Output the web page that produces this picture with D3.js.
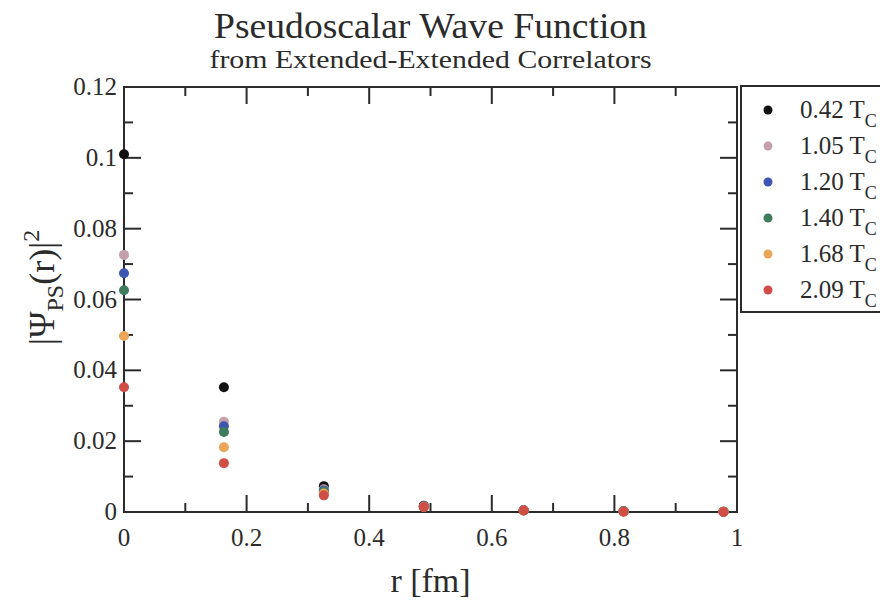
<!DOCTYPE html>
<html>
<head>
<meta charset="utf-8">
<script src="https://cdn.jsdelivr.net/npm/d3@7"></script>
<style>
  body { margin: 0; background: #fff; }
  svg text { font-family: "Liberation Serif", "Times New Roman", Times, serif; fill: #2b2b2b; }
</style>
</head>
<body>
<div id="chart"></div>
<script>
// data
var radius = [0, 0.163, 0.326, 0.489, 0.652, 0.815, 0.978];
var temps = ["0.42", "1.05", "1.20", "1.40", "1.68", "2.09"];
var colors = ["#111111", "#c4a0aa", "#3d56b2", "#3e7c5d", "#eba65a", "#d04e46"];
var wf042 = [0.101, 0.0352, 0.0073, 0.0018, 0.0005, 0.0002, 0.0001];
var wf105 = [0.0726, 0.0255, 0.0064, 0.0016, 0.0005, 0.0002, 0.0001];
var wf120 = [0.0674, 0.0242, 0.0061, 0.0015, 0.0005, 0.0002, 0.0001];
var wf140 = [0.0626, 0.0226, 0.0058, 0.0015, 0.0004, 0.0002, 0.0001];
var wf168 = [0.0497, 0.0183, 0.0052, 0.0014, 0.0004, 0.0001, 0.0001];
var wf209 = [0.0352, 0.0138, 0.0047, 0.0014, 0.0004, 0.0001, 0.0000];
var series = [wf042, wf105, wf120, wf140, wf168, wf209];
var xTicks = [0, 0.2, 0.4, 0.6, 0.8, 1];
var yTicks = [0, 0.02, 0.04, 0.06, 0.08, 0.1, 0.12];
var xMinor = [0.1, 0.3, 0.5, 0.7, 0.9];
var yMinor = [0.01, 0.03, 0.05, 0.07, 0.09, 0.11];

var margin = {top: 87, right: 143, bottom: 94, left: 124},
    width = 880 - margin.left - margin.right,
    height = 606 - margin.top - margin.bottom;

var svg = d3.select("#chart")
  .append("svg")
    .attr("width", 880)
    .attr("height", 606);

var g = svg.append("g")
    .attr("transform", "translate(" + margin.left + "," + margin.top + ")");

var x = d3.scaleLinear().domain([0, 1]).range([0, width]);
var y = d3.scaleLinear().domain([0, 0.12]).range([height, 0]);

var axisColor = "#2b2b2b";
var fmt = d3.format("~g");

// inward ticks on all four sides (major 17px, minor 9px)
var xt = xTicks.map(function(d) { return {v: d, len: 17}; })
  .concat(xMinor.map(function(d) { return {v: d, len: 9}; }));
var yt = yTicks.map(function(d) { return {v: d, len: 17}; })
  .concat(yMinor.map(function(d) { return {v: d, len: 9}; }));

var ticks = g.append("g").attr("stroke", axisColor).attr("stroke-width", 2);
ticks.selectAll(".xb").data(xt).enter().append("line")
  .attr("x1", function(d) { return x(d.v); }).attr("x2", function(d) { return x(d.v); })
  .attr("y1", height).attr("y2", function(d) { return height - d.len; });
ticks.selectAll(".xtp").data(xt).enter().append("line")
  .attr("x1", function(d) { return x(d.v); }).attr("x2", function(d) { return x(d.v); })
  .attr("y1", 0).attr("y2", function(d) { return d.len; });
ticks.selectAll(".yl").data(yt).enter().append("line")
  .attr("y1", function(d) { return y(d.v); }).attr("y2", function(d) { return y(d.v); })
  .attr("x1", 0).attr("x2", function(d) { return d.len; });
ticks.selectAll(".yr").data(yt).enter().append("line")
  .attr("y1", function(d) { return y(d.v); }).attr("y2", function(d) { return y(d.v); })
  .attr("x1", width).attr("x2", function(d) { return width - d.len; });

// tick labels
g.selectAll(".xlab").data(xTicks).enter().append("text")
  .attr("x", function(d) { return x(d); })
  .attr("y", height + 34)
  .attr("text-anchor", "middle")
  .style("font-size", "25px")
  .text(fmt);
g.selectAll(".ylab").data(yTicks).enter().append("text")
  .attr("x", -7)
  .attr("y", function(d) { return y(d) + 8; })
  .attr("text-anchor", "end")
  .style("font-size", "25px")
  .text(fmt);

// frame
g.append("rect")
  .attr("width", width).attr("height", height)
  .attr("fill", "none").attr("stroke", axisColor).attr("stroke-width", 2);

// points
series.forEach(function(vals, k) {
  g.append("g").selectAll("circle")
    .data(vals)
    .enter()
    .append("circle")
      .attr("cx", function(d, i) { return x(radius[i]); })
      .attr("cy", function(d) { return y(d); })
      .attr("r", 5)
      .attr("fill", colors[k]);
});

// titles
svg.append("text")
  .attr("x", margin.left + width / 2).attr("y", 38)
  .attr("text-anchor", "middle")
  .style("font-size", "36px")
  .attr("textLength", 433).attr("lengthAdjust", "spacingAndGlyphs")
  .text("Pseudoscalar Wave Function");
svg.append("text")
  .attr("x", margin.left + width / 2).attr("y", 68)
  .attr("text-anchor", "middle")
  .style("font-size", "26px")
  .attr("textLength", 442).attr("lengthAdjust", "spacingAndGlyphs")
  .text("from Extended-Extended Correlators");

// axis labels
svg.append("text")
  .attr("x", margin.left + width / 2).attr("y", 592)
  .attr("text-anchor", "middle")
  .style("font-size", "34px")
  .text("r [fm]");

var yl = svg.append("text")
  .attr("transform", "translate(54," + (margin.top + height / 2 - 12) + ") rotate(-90)")
  .attr("text-anchor", "middle")
  .style("font-size", "36px");
yl.append("tspan").text("|\u03A8");
yl.append("tspan").attr("dy", 9).style("font-size", "24px").text("PS");
yl.append("tspan").attr("dy", -9).text("(r)|");
yl.append("tspan").attr("dy", -15).style("font-size", "24px").text("2");

// legend
var lg = svg.append("g").attr("transform", "translate(741,86)");
lg.append("rect")
  .attr("width", 160).attr("height", 226)
  .attr("fill", "#fff").attr("stroke", axisColor).attr("stroke-width", 2);
var rows = lg.selectAll(".row").data(temps).enter().append("g")
  .attr("transform", function(d, i) { return "translate(0," + (24 + i * 36) + ")"; });
rows.append("circle").attr("cx", 27).attr("cy", 0).attr("r", 4.5)
  .attr("fill", function(d, i) { return colors[i]; });
var lt = rows.append("text").attr("x", 59).attr("y", 8).style("font-size", "25px");
lt.append("tspan").text(function(d) { return d + " T"; });
lt.append("tspan").attr("dy", 9).style("font-size", "18px").text("C");
</script>
</body>
</html>
